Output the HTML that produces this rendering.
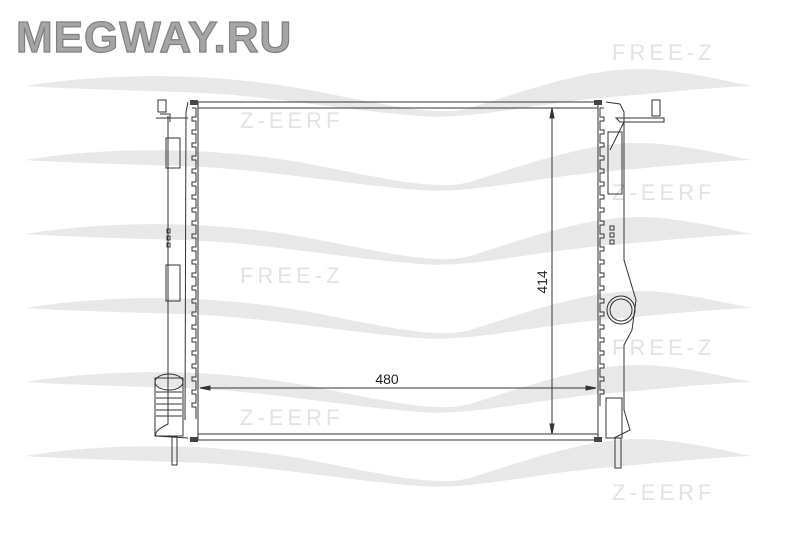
<!DOCTYPE html>
<html><head><meta charset="utf-8"><style>
html,body{margin:0;padding:0;background:#fff;}
svg{display:block;}
</style></head><body>
<svg width="800" height="550" viewBox="0 0 800 550" xmlns="http://www.w3.org/2000/svg">
<defs>
<path id="sw" d="M25,0 C110,-14 220,-14 320,6 C400,22 440,30 470,22 C540,0 600,-22 660,-16 C700,-12 730,-4 752,0 C700,2 650,8 600,12 C520,20 470,34 420,30 C340,24 260,8 180,6 C120,4 70,3 25,0 Z" fill="#e8e8e8"/>
</defs>
<use href="#sw" x="0" y="86"/>
<use href="#sw" x="0" y="160"/>
<use href="#sw" x="0" y="234"/>
<use href="#sw" x="0" y="308"/>
<use href="#sw" x="0" y="382"/>
<use href="#sw" x="0" y="456"/>
<g font-family="Liberation Sans, sans-serif" font-size="22" letter-spacing="4" fill="#e2e2e2">
<text x="612" y="60">FREE-Z</text>
<text x="240" y="128">Z-EERF</text>
<text x="612" y="200">Z-EERF</text>
<text x="240" y="283">FREE-Z</text>
<text x="612" y="355">FREE-Z</text>
<text x="240" y="425">Z-EERF</text>
<text x="612" y="500">Z-EERF</text>
</g>
<text x="16" y="52" font-family="Liberation Sans, sans-serif" font-weight="bold" font-size="44" fill="#a5a5a5" stroke="#808080" stroke-width="1.2" letter-spacing="1">MEGWAY.RU</text>
<g stroke="#333" stroke-width="1" fill="none">
<line x1="198" y1="102" x2="598" y2="102"/>
<line x1="198" y1="108" x2="598" y2="108"/>
<line x1="198" y1="434" x2="598" y2="434"/>
<line x1="198" y1="440" x2="598" y2="440"/>
<line x1="198" y1="102" x2="198" y2="440"/>
<line x1="598" y1="102" x2="598" y2="440"/>
<path d="M192,108 h4 v9 h-4 v4 h4 v9 h-4 v4 h4 v9 h-4 v4 h4 v9 h-4 v4 h4 v9 h-4 v4 h4 v9 h-4 v4 h4 v9 h-4 v4 h4 v9 h-4 v4 h4 v9 h-4 v4 h4 v9 h-4 v4 h4 v9 h-4 v4 h4 v9 h-4 v4 h4 v9 h-4 v4 h4 v9 h-4 v4 h4 v9 h-4 v4 h4 v9 h-4 v4 h4 v9 h-4 v4 h4 v9 h-4 v4 h4 v9 h-4 v4 h4 v9 h-4 v4 h4 v9 h-4 v4 h4 v9 h-4 v4 h4 v9 h-4 v4 h4 v12"/>
<path d="M604,108 h-4 v9 h4 v4 h-4 v9 h4 v4 h-4 v9 h4 v4 h-4 v9 h4 v4 h-4 v9 h4 v4 h-4 v9 h4 v4 h-4 v9 h4 v4 h-4 v9 h4 v4 h-4 v9 h4 v4 h-4 v9 h4 v4 h-4 v9 h4 v4 h-4 v9 h4 v4 h-4 v9 h4 v4 h-4 v9 h4 v4 h-4 v9 h4 v4 h-4 v9 h4 v4 h-4 v9 h4 v4 h-4 v9 h4 v4 h-4 v9 h4 v4 h-4 v9 h4 v4 h-4 v9 h4 v4 h-4 v9 h4 v4 h-4 v12"/>
<path d="M188,102 L186,112 L185,420 M168,116 L168,424 C160,428 154,432 156,436 L188,438"/>
<rect x="158" y="100" width="8" height="12"/>
<path d="M156,118 L188,118 M160,114 h10 v8"/>
<rect x="166" y="138" width="14" height="30"/>
<rect x="166" y="265" width="14" height="36"/>
<rect x="167" y="229" width="3" height="4"/><rect x="167" y="236" width="3" height="4"/><rect x="167" y="243" width="3" height="4"/>
<rect x="155" y="378" width="28" height="58"/>
<ellipse cx="169" cy="382" rx="14" ry="8"/>
<path d="M156,392 h26 M156,398 h26 M156,404 h26 M156,410 h26 M156,416 h26"/>
<rect x="172" y="437" width="5" height="28"/>
<path d="M606,102 L620,104 L624,112 L624,260 L636,300 L632,330 L624,345 L624,410 L630,430 L614,438"/>
<rect x="652" y="100" width="8" height="16"/>
<path d="M616,118 L664,118 L664,122 L620,122 Z M624,122 L610,150"/>
<rect x="608" y="132" width="14" height="62"/>
<rect x="610" y="226" width="4" height="4"/><rect x="610" y="233" width="4" height="4"/><rect x="610" y="240" width="4" height="4"/>
<circle cx="621" cy="310" r="14"/><circle cx="621" cy="310" r="11"/>
<rect x="606" y="398" width="16" height="40"/>
<rect x="615" y="438" width="6" height="30"/>
</g>
<g fill="#444">
<rect x="190" y="100" width="8" height="5"/>
<rect x="190" y="437" width="8" height="5"/>
<rect x="594" y="100" width="8" height="5"/>
<rect x="594" y="437" width="8" height="5"/>
</g>
<g stroke="#333" stroke-width="1" fill="#333">
<line x1="552" y1="108" x2="552" y2="434"/>
<path d="M552,108 l-2,10 h4 Z"/>
<path d="M552,434 l-2,-10 h4 Z"/>
<line x1="200" y1="388" x2="596" y2="388"/>
<path d="M200,388 l10,-2 v4 Z"/>
<path d="M596,388 l-10,-2 v4 Z"/>
</g>
<text x="387" y="384" font-family="Liberation Sans, sans-serif" font-size="14" fill="#222" text-anchor="middle">480</text>
<text transform="translate(547,282) rotate(-90)" font-family="Liberation Sans, sans-serif" font-size="14" fill="#222" text-anchor="middle">414</text>
</svg>
</body></html>
